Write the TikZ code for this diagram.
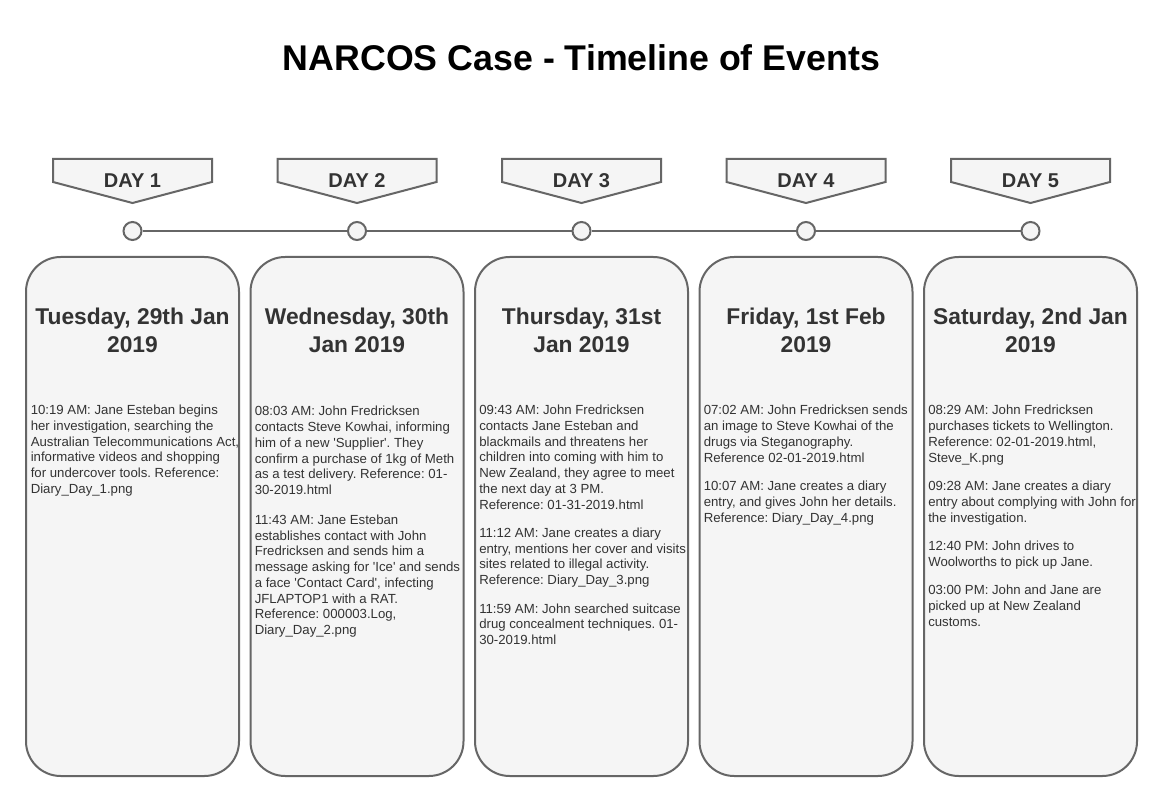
\documentclass[tikz,border=0pt]{standalone}
\usepackage{fontspec}
\setmainfont{Liberation Sans}
\frenchspacing
\definecolor{strk}{HTML}{666666}
\definecolor{fll}{HTML}{F5F5F5}
\definecolor{txt}{HTML}{333333}
\newcommand{\q}{\textquotesingle}
\begin{document}
\begin{tikzpicture}[x=0.75pt,y=-0.75pt,
  card/.style={draw=strk, fill=fll, line width=1.5pt, rounded corners=26pt,
    minimum width=159.75pt, minimum height=389.25pt, anchor=north, inner sep=0pt},
  banner/.style={draw=strk, fill=fll, line width=1.5pt},
  daylabel/.style={font=\bfseries\fontsize{15pt}{18pt}\selectfont, text=txt, anchor=base, inner sep=0pt},
  dot/.style={circle, draw=strk, fill=fll, line width=1.5pt, minimum size=13.5pt, inner sep=0pt},
  heading/.style={font=\bfseries\fontsize{17.1pt}{21pt}\selectfont, text=txt, align=center, anchor=base, inner sep=0pt},
  body/.style={font=\fontsize{9.9pt}{11.8pt}\selectfont\frenchspacing, text=txt, align=left, anchor=base west, inner sep=0pt},
  tline/.style={draw=strk, line width=1.5pt}
]
\fill[white] (0,0) rectangle (1163,802);
\useasboundingbox (0,0) rectangle (1163,802);

\node[font=\bfseries\fontsize{26.8pt}{30pt}\selectfont, text=black, anchor=base, inner sep=0pt] (title) at (581.5,70.5) {NARCOS Case - Timeline of Events};

% banners
\foreach \cx/\n in {132.5/1, 357/2, 581.5/3, 806/4, 1030.5/5}{
  \draw[banner] (\cx-79.5,159) -- (\cx+79.5,159) -- (\cx+79.5,182) -- (\cx,203) -- (\cx-79.5,182) -- cycle;
  \node[daylabel] (d\n) at (\cx,187.5) {DAY \n};
}

% timeline dots
\node[dot] (c1) at (132.5,231) {};
\node[dot] (c2) at (357,231) {};
\node[dot] (c3) at (581.5,231) {};
\node[dot] (c4) at (806,231) {};
\node[dot] (c5) at (1030.5,231) {};
\draw[tline] (c1) -- (c2);
\draw[tline] (c2) -- (c3);
\draw[tline] (c3) -- (c4);
\draw[tline] (c4) -- (c5);

% cards
\node[card] (k1) at (132.5,256) {};
\node[card] (k2) at (357,256) {};
\node[card] (k3) at (581.5,256) {};
\node[card] (k4) at (806,256) {};
\node[card] (k5) at (1030.5,256) {};

% headings (base = baseline of last line)
\node[heading] (h1) at (132.5,352) {Tuesday, 29th Jan\\2019};
\node[heading] (h2) at (357,352) {Wednesday, 30th\\Jan 2019};
\node[heading] (h3) at (581.5,352) {Thursday, 31st\\Jan 2019};
\node[heading] (h4) at (806,352) {Friday, 1st Feb\\2019};
\node[heading] (h5) at (1030.5,352) {Saturday, 2nd Jan\\2019};

% bodies (base = baseline of last line)
\node[body] (b1) at (30.5,493.2) {10:19 AM: Jane Esteban begins\\her investigation, searching the\\Australian Telecommunications Act,\\informative videos and shopping\\for undercover tools. Reference:\\Diary\_Day\_1.png};

\node[body] (b2) at (254.5,634.5) {08:03 AM: John Fredricksen\\contacts Steve Kowhai, informing\\him of a new \q Supplier\q. They\\confirm a purchase of 1kg of Meth\\as a test delivery. Reference: 01-\\30-2019.html\\[10.5pt]
11:43 AM: Jane Esteban\\establishes contact with John\\Fredricksen and sends him a\\message asking for \q Ice\q\ and sends\\a face \q Contact Card\q, infecting\\JFLAPTOP1 with a RAT.\\Reference: 000003.Log,\\Diary\_Day\_2.png};

\node[body] (b3) at (479,644.5) {09:43 AM: John Fredricksen\\contacts Jane Esteban and\\blackmails and threatens her\\children into coming with him to\\New Zealand, they agree to meet\\the next day at 3 PM.\\Reference: 01-31-2019.html\\[9.5pt]
11:12 AM: Jane creates a diary\\entry, mentions her cover and visits\\sites related to illegal activity.\\Reference: Diary\_Day\_3.png\\[9.5pt]
11:59 AM: John searched suitcase\\drug concealment techniques. 01-\\30-2019.html};

\node[body] (b4) at (703.5,522) {07:02 AM: John Fredricksen sends\\an image to Steve Kowhai of the\\drugs via Steganography.\\Reference 02-01-2019.html\\[9.5pt]
10:07 AM: Jane creates a diary\\entry, and gives John her details.\\Reference: Diary\_Day\_4.png};

\node[body] (b5) at (928,626) {08:29 AM: John Fredricksen\\purchases tickets to Wellington.\\Reference: 02-01-2019.html,\\Steve\_K.png\\[9.5pt]
09:28 AM: Jane creates a diary\\entry about complying with John for\\the investigation.\\[9.5pt]
12:40 PM: John drives to\\Woolworths to pick up Jane.\\[9.5pt]
03:00 PM: John and Jane are\\picked up at New Zealand\\customs.};
\end{tikzpicture}
\end{document}
